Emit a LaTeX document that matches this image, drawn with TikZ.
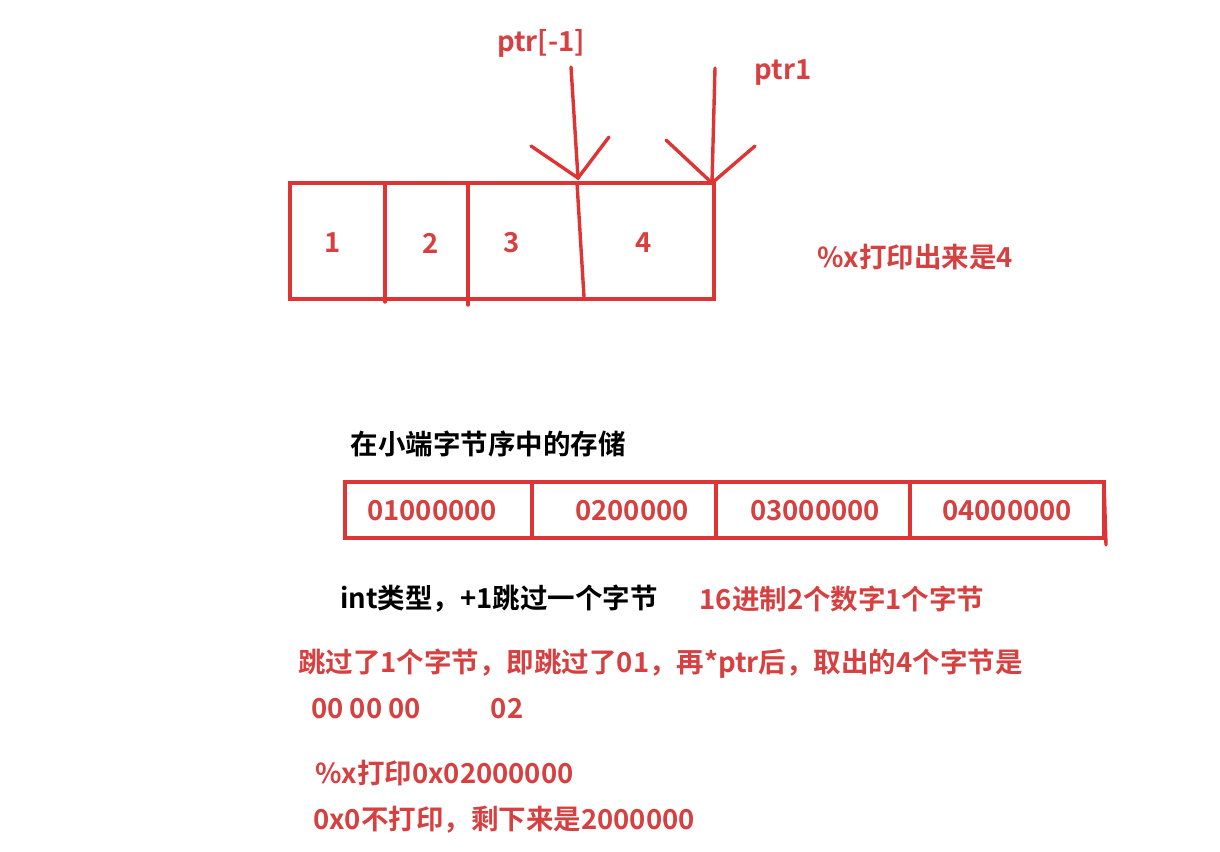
\documentclass[tikz,border=0pt]{standalone}
\usepackage{fontspec}
\setmainfont{Noto Sans CJK SC}[BoldFont={* Bold}]
\definecolor{rd}{RGB}{222,52,52}
\definecolor{tr}{RGB}{214,64,64}
\begin{document}
\begin{tikzpicture}[x=1pt,y=-1pt,
  ln/.style={draw=rd,line width=3.4pt,line cap=round},
  rt/.style={text=tr,font=\bfseries\fontsize{27.5}{30}\selectfont,inner sep=0pt},
  bt/.style={text=black,font=\bfseries\fontsize{27.5}{30}\selectfont,inner sep=0pt}]
\useasboundingbox (0,0) rectangle (1220,851);
% top box
\draw[ln] (290,183) rectangle (714,299);
\draw[ln] (385,183) -- (385,302);
\draw[ln] (468,183) -- (468,305);
\draw[ln] (577,183) -- (584,297);
\coordinate (t1) at (571,67); \coordinate (h1) at (578,178);
\coordinate (t2) at (715,68); \coordinate (h2) at (712,183);
\draw[ln] (t1) -- (h1);
\draw[ln] (531,146) -- (h1) -- (609,137);
\draw[ln] (t2) -- (h2);
\draw[ln] (666,140) -- (h2) -- (755,146);
\node[rt] (lp) at (541,43) {ptr[-1]};
\node[rt] (lq) at (783,73) {ptr1};
\node[rt] at (333,243) {1};
\node[rt] at (431,243) {2};
\node[rt] at (512,243) {3};
\node[rt] at (644,243) {4};
\node[rt] at (915,257) {\%x打印出来是4};
% bottom box
\node[bt] at (488,444) {在小端字节序中的存储};
\draw[ln] (345,482) rectangle (1104,538);
\draw[ln] (1104,482) -- (1106,545);
\draw[ln] (532,482) -- (532,538);
\draw[ln] (716,482) -- (716,538);
\draw[ln] (910,482) -- (910,538);
\node[rt] at (432,511) {01000000};
\node[rt] at (632,511) {0200000};
\node[rt] at (815,511) {03000000};
\node[rt] at (1007,511) {04000000};
\node[bt] at (499,599) {int类型，+1跳过一个字节};
\node[rt] at (842,599) {16进制2个数字1个字节};
\node[rt,anchor=west] at (298,664) {跳过了1个字节，即跳过了01，再*ptr后，取出的4个字节是};
\node[rt] at (366,709) {00 00 00};
\node[rt] at (507,709) {02};
\node[rt,anchor=west] at (315,773) {\%x打印0x02000000};
\node[rt,anchor=west] at (313,820) {0x0不打印，剩下来是2000000};
\end{tikzpicture}
\end{document}
